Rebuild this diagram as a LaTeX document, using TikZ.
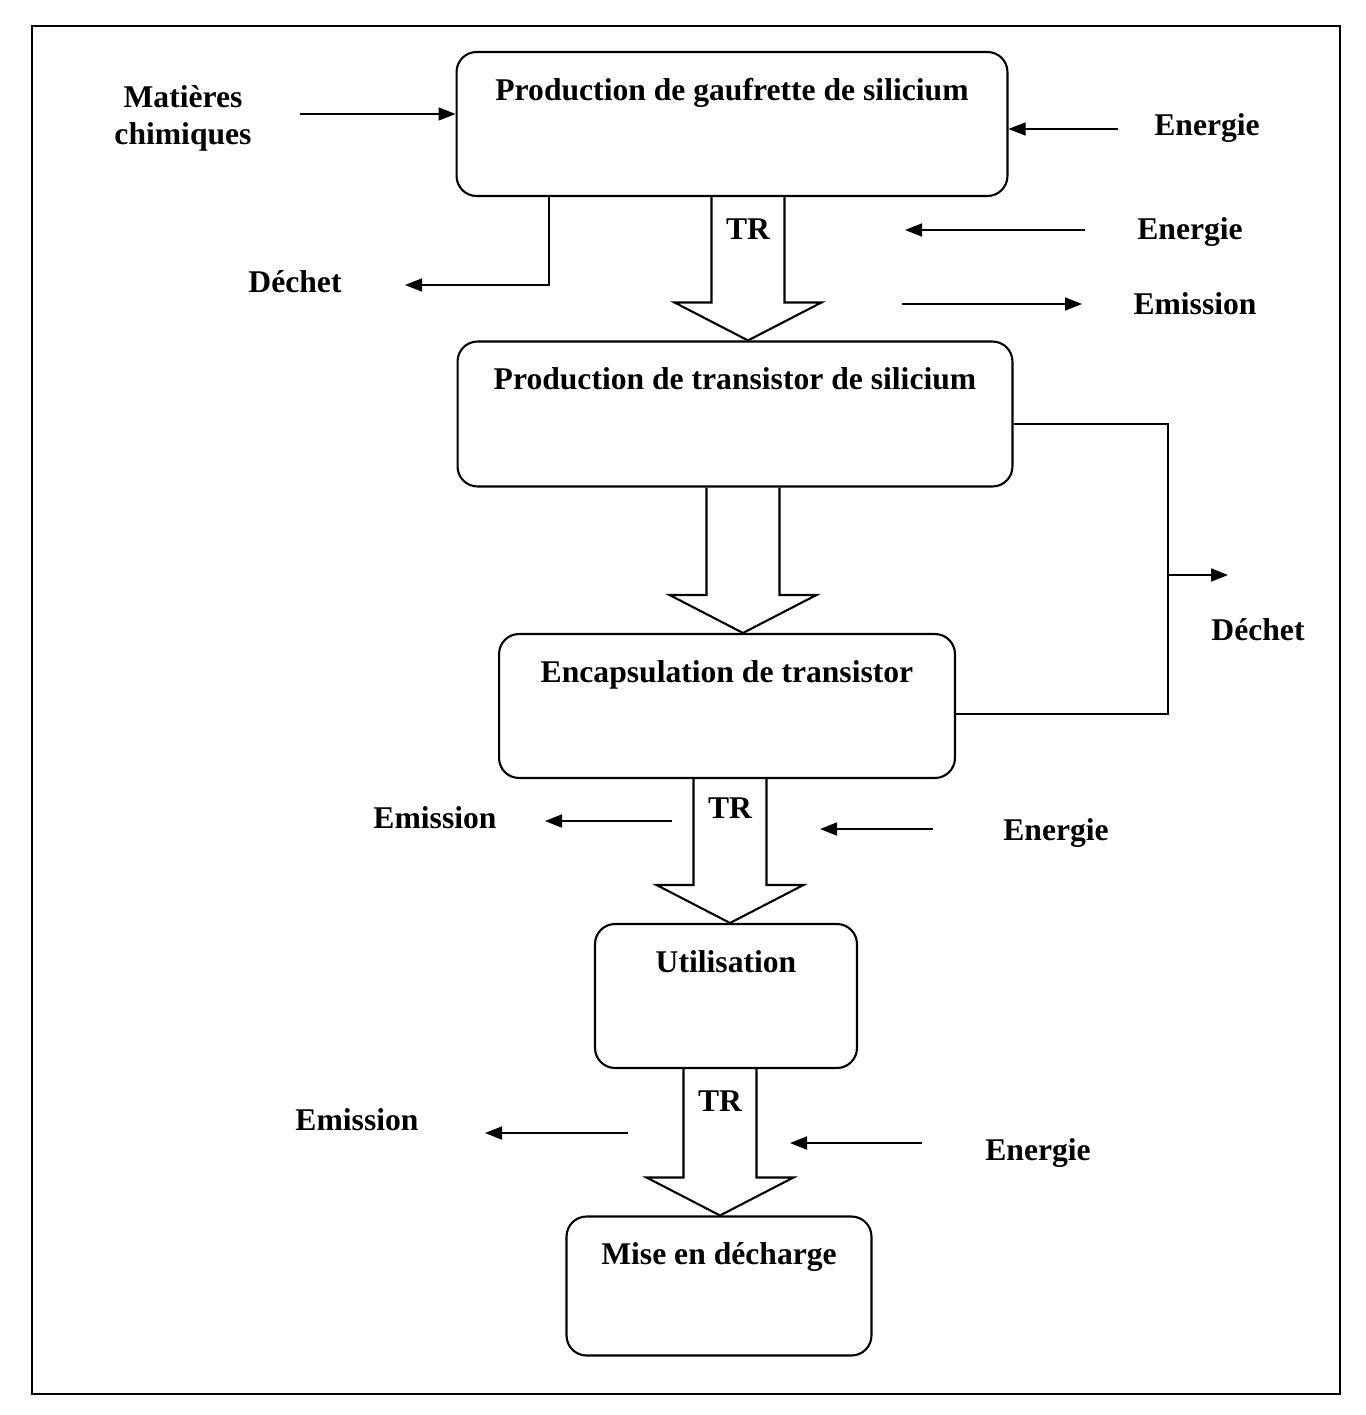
\documentclass[tikz,border=0pt]{standalone}
\usepackage{fontspec}
\setmainfont{Liberation Serif}
\usetikzlibrary{arrows.meta}
\tikzset{
  etape/.style={draw, line width=1.2pt, rounded corners=0.4cm, inner sep=0pt,
    text height=0.96cm, font=\fontsize{18}{21}\selectfont\bfseries},
  legende/.style={inner sep=0pt, font=\fontsize{18}{21}\selectfont\bfseries},
  flux/.style={->, line width=1pt},
  lien/.style={line width=1pt},
  fleche/.style={line width=1.2pt, line join=miter},
}
\begin{document}
\begin{tikzpicture}[x=0.02cm,y=-0.02cm,> = {Triangle[length=3.4mm,width=2.6mm]}]
	\useasboundingbox (0,0) rectangle (1365,1415);
	\draw[line width=0.8pt] (32,26) rectangle (1340,1394);
	% etapes du cycle de vie
	\node[etape, minimum width=11.02cm, text depth=1.92cm] (gaufrette) at (732,124)
		{Production de gaufrette de silicium};
	\node[etape, minimum width=11.1cm, text depth=1.94cm] (transistor) at (735,414)
		{Production de transistor de silicium};
	\node[etape, minimum width=9.12cm, text depth=1.92cm] (encaps) at (727,706)
		{Encapsulation de transistor};
	\node[etape, minimum width=5.24cm, text depth=1.92cm] (utilisation) at (726,996)
		{Utilisation};
	\node[etape, minimum width=6.1cm, text depth=1.82cm] (decharge) at (719,1286)
		{Mise en décharge};
	% grosses fleches entre les etapes
	\foreach \haut/\bas/\cx [count=\i] in {gaufrette/transistor/748, transistor/encaps/743,
		encaps/utilisation/730, utilisation/decharge/720}{
		\coordinate (haut\i) at (\cx,0 |- \haut.south);
		\coordinate (pointe\i) at (\cx,0 |- \bas.north);
		\coordinate (base\i) at ([yshift=0.76cm]pointe\i);
		\draw[fleche] (\cx-36.5,0 |- \haut.south) -- (\cx-36.5,0 |- base\i) -- ++(-37,0)
			-- (pointe\i) -- ++(73.5,-38) -- ++(-37,0) -- (\cx+36.5,0 |- \haut.south);
	}
	\node[legende, anchor=north] (tr1) at ([yshift=-0.42cm]haut1) {TR};
	\node[legende, anchor=north] (tr3) at ([yshift=-0.36cm]haut3) {TR};
	\node[legende, anchor=north] (tr4) at ([yshift=-0.42cm]haut4) {TR};
	% entrees et sorties
	\node[legende, align=center] (matieres) at (183,118) {Matières\\chimiques};
	\coordinate (mc) at (300,114);
	\draw[flux] (mc) -- (mc -| gaufrette.west);
	\node[legende, anchor=base] (energie1) at (1207,136) {Energie};
	\coordinate (e1) at (1118,129);
	\draw[flux] (e1) -- (e1 -| gaufrette.east);
	\node[legende, anchor=base] (dechet1) at (295,293) {Déchet};
	\coordinate (d1) at (405,285);
	\draw[flux] (549,0 |- gaufrette.south) |- (d1);
	\node[legende, anchor=base] (energie2) at (1190,240) {Energie};
	\coordinate (e2a) at (1085,230);
	\coordinate (e2b) at (905,230);
	\draw[flux] (e2a) -- (e2b);
	\node[legende, anchor=base] (emission1) at (1195,315) {Emission};
	\coordinate (m1a) at (902,304);
	\coordinate (m1b) at (1082,304);
	\draw[flux] (m1a) -- (m1b);
	% dechet des deux etapes centrales
	\coordinate (dcoin1) at (1168,424);
	\coordinate (dcoin2) at (1168,714);
	\draw[lien] (dcoin1 -| transistor.east) -- (dcoin1) -- (dcoin2) -- (dcoin2 -| encaps.east);
	\coordinate (dsortie) at (1228,575);
	\draw[flux] (dsortie -| dcoin1) -- (dsortie);
	\node[legende, anchor=base] (dechet2) at (1258,640) {Déchet};
	\node[legende, anchor=base] (emission2) at (435,828) {Emission};
	\coordinate (m2a) at (672,821);
	\coordinate (m2b) at (545,821);
	\draw[flux] (m2a) -- (m2b);
	\node[legende, anchor=base] (energie3) at (1056,840) {Energie};
	\coordinate (e3a) at (933,829);
	\coordinate (e3b) at (820,829);
	\draw[flux] (e3a) -- (e3b);
	\node[legende, anchor=base] (emission3) at (357,1130) {Emission};
	\coordinate (m3a) at (628,1133);
	\coordinate (m3b) at (485,1133);
	\draw[flux] (m3a) -- (m3b);
	\node[legende, anchor=base] (energie4) at (1038,1160) {Energie};
	\coordinate (e4a) at (922,1143);
	\coordinate (e4b) at (790,1143);
	\draw[flux] (e4a) -- (e4b);
\end{tikzpicture}
\end{document}
